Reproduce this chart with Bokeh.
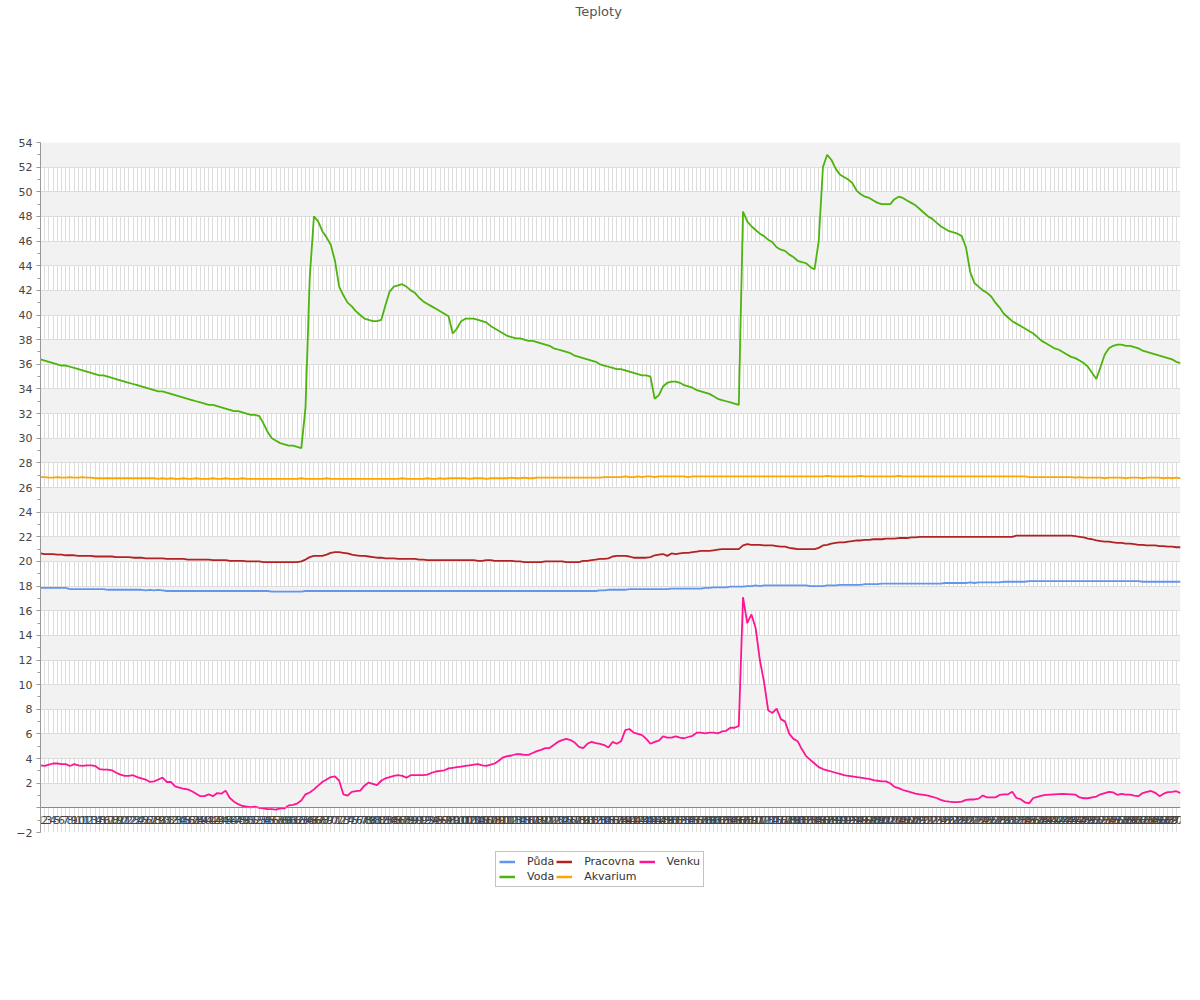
from bokeh.plotting import figure
from bokeh.models import Range1d, FixedTicker, Legend, LegendItem, Title
from bokeh.layouts import column
from bokeh.embed import file_html
from bokeh.resources import INLINE

days = list(range(1, 273))
day_labels = [str(d) for d in days]

voda = [
    36.4, 36.3, 36.2, 36.1, 36.0, 35.9, 35.9, 35.8, 35.7, 35.6,
    35.5, 35.4, 35.3, 35.2, 35.1, 35.1, 35.0, 34.9, 34.8, 34.7,
    34.6, 34.5, 34.4, 34.3, 34.2, 34.1, 34.0, 33.9, 33.8, 33.8,
    33.7, 33.6, 33.5, 33.4, 33.3, 33.2, 33.1, 33.0, 32.9, 32.8,
    32.7, 32.7, 32.6, 32.5, 32.4, 32.3, 32.2, 32.2, 32.1, 32.0,
    31.9, 31.9, 31.8, 31.2, 30.5, 30.0, 29.8, 29.6, 29.5, 29.4,
    29.4, 29.3, 29.2, 32.5, 43.0, 48.0, 47.6, 46.8, 46.3, 45.7,
    44.4, 42.3, 41.6, 41.0, 40.7, 40.3, 40.0, 39.7, 39.6, 39.5,
    39.5, 39.6, 40.8, 41.9, 42.3, 42.4, 42.5, 42.3, 42.0, 41.8,
    41.4, 41.1, 40.9, 40.7, 40.5, 40.3, 40.1, 39.9, 38.5, 38.9,
    39.5, 39.7, 39.7, 39.7, 39.6, 39.5, 39.4, 39.1, 38.9, 38.7,
    38.5, 38.3, 38.2, 38.1, 38.1, 38.0, 37.9, 37.9, 37.8, 37.7,
    37.6, 37.5, 37.3, 37.2, 37.1, 37.0, 36.9, 36.7, 36.6, 36.5,
    36.4, 36.3, 36.2, 36.0, 35.9, 35.8, 35.7, 35.6, 35.6, 35.5,
    35.4, 35.3, 35.2, 35.1, 35.1, 35.0, 33.2, 33.5, 34.2, 34.5,
    34.6, 34.6, 34.5, 34.3, 34.2, 34.1, 33.9, 33.8, 33.7, 33.6,
    33.4, 33.2, 33.1, 33.0, 32.9, 32.8, 32.7, 48.4, 47.6, 47.2,
    46.9, 46.6, 46.4, 46.1, 45.9, 45.5, 45.3, 45.2, 44.9, 44.7,
    44.4, 44.3, 44.2, 43.9, 43.7, 46.0, 52.0, 53.0, 52.6, 51.9,
    51.4, 51.2, 51.0, 50.7, 50.1, 49.8, 49.6, 49.5, 49.3, 49.1,
    49.0, 49.0, 49.0, 49.4, 49.6, 49.5, 49.3, 49.1, 48.9, 48.6,
    48.3, 48.0, 47.8, 47.5, 47.2, 47.0, 46.8, 46.7, 46.6, 46.4,
    45.5, 43.5, 42.6, 42.3, 42.0, 41.8, 41.5, 41.0, 40.6, 40.1,
    39.8, 39.5, 39.3, 39.1, 38.9, 38.7, 38.5, 38.2, 37.9, 37.7,
    37.5, 37.3, 37.2, 37.0, 36.8, 36.6, 36.5, 36.3, 36.1, 35.8,
    35.3, 34.8, 35.8, 36.8, 37.3, 37.5, 37.6, 37.6, 37.5, 37.5,
    37.4, 37.3, 37.1, 37.0, 36.9, 36.8, 36.7, 36.6, 36.5, 36.4,
    36.2, 36.1,
]

venku = [
    3.45, 3.4, 3.5, 3.6, 3.6, 3.55, 3.55, 3.4, 3.55, 3.45,
    3.4, 3.45, 3.45, 3.4, 3.15, 3.1, 3.1, 3.05, 2.85, 2.7,
    2.6, 2.6, 2.65, 2.5, 2.4, 2.3, 2.1, 2.15, 2.3, 2.45,
    2.1, 2.1, 1.75, 1.65, 1.55, 1.5, 1.35, 1.15, 0.95, 0.95,
    1.1, 0.95, 1.2, 1.15, 1.4, 0.8, 0.5, 0.3, 0.15, 0.1,
    0.05, 0.1, 0.0, -0.05, -0.1, -0.1, -0.15, -0.05, -0.05, 0.2,
    0.25, 0.35, 0.6, 1.1, 1.25, 1.5, 1.8, 2.1, 2.3, 2.5,
    2.55, 2.2, 1.1, 1.0, 1.3, 1.35, 1.4, 1.8, 2.05, 1.95,
    1.85, 2.2, 2.4, 2.5, 2.6, 2.65, 2.6, 2.45, 2.65, 2.65,
    2.65, 2.65, 2.7, 2.85, 2.95, 3.0, 3.05, 3.2, 3.25, 3.3,
    3.35, 3.4, 3.45, 3.5, 3.55, 3.45, 3.4, 3.5, 3.6, 3.85,
    4.1, 4.2, 4.25, 4.35, 4.35, 4.3, 4.3, 4.45, 4.6, 4.7,
    4.85, 4.85, 5.1, 5.35, 5.5, 5.6, 5.5, 5.3, 4.95, 4.85,
    5.2, 5.35, 5.25, 5.2, 5.1, 4.9, 5.35, 5.2, 5.4, 6.3,
    6.4, 6.1, 6.0, 5.9, 5.6, 5.2, 5.35, 5.45, 5.8, 5.7,
    5.7, 5.8, 5.7, 5.65, 5.75, 5.85, 6.1, 6.1, 6.05, 6.1,
    6.1, 6.05, 6.2, 6.25, 6.5, 6.5, 6.65, 17.1, 15.0, 15.7,
    14.6, 12.0, 10.2, 7.9, 7.7, 8.05, 7.2, 7.0, 6.0, 5.6,
    5.4, 4.75, 4.2, 3.9, 3.6, 3.3, 3.15, 3.05, 2.95, 2.85,
    2.75, 2.65, 2.6, 2.55, 2.5, 2.45, 2.4, 2.35, 2.25, 2.2,
    2.15, 2.15, 2.0, 1.7, 1.6, 1.45, 1.35, 1.25, 1.15, 1.1,
    1.05, 1.0, 0.9, 0.8, 0.65, 0.55, 0.5, 0.47, 0.47, 0.5,
    0.65, 0.68, 0.68, 0.75, 1.0, 0.85, 0.85, 0.85, 1.05, 1.1,
    1.1, 1.3, 0.8, 0.7, 0.45, 0.36, 0.8, 0.9, 1.0, 1.05,
    1.08, 1.1, 1.12, 1.13, 1.12, 1.1, 1.08, 0.85, 0.78, 0.78,
    0.85, 0.92, 1.1, 1.2, 1.3, 1.25, 1.06, 1.13, 1.08, 1.08,
    1.0, 0.95, 1.2, 1.3, 1.37, 1.22, 0.95, 1.15, 1.27, 1.3,
    1.35, 1.2,
]

akvarium = [
    26.85, 26.85, 26.8, 26.8, 26.85, 26.8, 26.8, 26.85, 26.8, 26.8,
    26.85, 26.8, 26.8, 26.75, 26.75, 26.75, 26.75, 26.75, 26.75, 26.75,
    26.75, 26.75, 26.75, 26.75, 26.75, 26.75, 26.75, 26.75, 26.7, 26.75,
    26.7, 26.75, 26.7, 26.7, 26.75, 26.7, 26.7, 26.75, 26.7, 26.7,
    26.7, 26.75, 26.7, 26.7, 26.75, 26.7, 26.7, 26.7, 26.75, 26.7,
    26.7, 26.7, 26.7, 26.7, 26.7, 26.7, 26.7, 26.7, 26.7, 26.7,
    26.7, 26.7, 26.75, 26.7, 26.7, 26.7, 26.7, 26.7, 26.75, 26.7,
    26.7, 26.7, 26.7, 26.7, 26.7, 26.7, 26.7, 26.7, 26.7, 26.7,
    26.7, 26.7, 26.7, 26.7, 26.7, 26.7, 26.75, 26.7, 26.7, 26.7,
    26.7, 26.7, 26.75, 26.7, 26.7, 26.75, 26.7, 26.75, 26.75, 26.75,
    26.75, 26.75, 26.7, 26.75, 26.75, 26.75, 26.7, 26.75, 26.75, 26.75,
    26.75, 26.75, 26.8, 26.75, 26.75, 26.8, 26.75, 26.75, 26.8, 26.8,
    26.8, 26.8, 26.8, 26.8, 26.8, 26.8, 26.8, 26.8, 26.8, 26.8,
    26.8, 26.8, 26.8, 26.8, 26.85, 26.85, 26.85, 26.85, 26.85, 26.9,
    26.85, 26.85, 26.9, 26.85, 26.9, 26.9, 26.85, 26.9, 26.9, 26.9,
    26.9, 26.9, 26.9, 26.9, 26.85, 26.9, 26.9, 26.9, 26.9, 26.9,
    26.9, 26.9, 26.9, 26.9, 26.9, 26.9, 26.9, 26.9, 26.9, 26.9,
    26.9, 26.9, 26.9, 26.9, 26.9, 26.9, 26.9, 26.9, 26.9, 26.9,
    26.9, 26.9, 26.9, 26.9, 26.9, 26.9, 26.9, 26.95, 26.9, 26.9,
    26.9, 26.9, 26.9, 26.9, 26.9, 26.95, 26.9, 26.9, 26.9, 26.9,
    26.9, 26.9, 26.9, 26.9, 26.95, 26.9, 26.9, 26.9, 26.9, 26.9,
    26.9, 26.9, 26.9, 26.9, 26.9, 26.9, 26.9, 26.9, 26.9, 26.9,
    26.9, 26.9, 26.9, 26.9, 26.9, 26.9, 26.9, 26.9, 26.9, 26.9,
    26.9, 26.9, 26.9, 26.9, 26.9, 26.85, 26.85, 26.85, 26.85, 26.85,
    26.85, 26.85, 26.85, 26.85, 26.85, 26.85, 26.8, 26.85, 26.8, 26.8,
    26.8, 26.8, 26.8, 26.75, 26.8, 26.8, 26.8, 26.8, 26.75, 26.8,
    26.8, 26.8, 26.75, 26.8, 26.8, 26.8, 26.8, 26.75, 26.8, 26.75,
    26.8, 26.75,
]

pracovna = [
    20.65, 20.6, 20.6, 20.6, 20.55, 20.55, 20.5, 20.5, 20.5, 20.45,
    20.45, 20.45, 20.45, 20.4, 20.4, 20.4, 20.4, 20.4, 20.35, 20.35,
    20.35, 20.35, 20.3, 20.3, 20.3, 20.25, 20.25, 20.25, 20.25, 20.25,
    20.2, 20.2, 20.2, 20.2, 20.2, 20.15, 20.15, 20.15, 20.15, 20.15,
    20.15, 20.1, 20.1, 20.1, 20.1, 20.05, 20.05, 20.05, 20.05, 20.0,
    20.0, 20.0, 20.0, 19.95, 19.95, 19.95, 19.95, 19.95, 19.95, 19.95,
    19.95, 19.95, 20.0, 20.15, 20.35, 20.45, 20.45, 20.45, 20.55, 20.7,
    20.75, 20.75, 20.7, 20.65, 20.55, 20.5, 20.45, 20.45, 20.4, 20.35,
    20.3, 20.3, 20.25, 20.25, 20.25, 20.2, 20.2, 20.2, 20.2, 20.2,
    20.15, 20.15, 20.1, 20.1, 20.1, 20.1, 20.1, 20.1, 20.1, 20.1,
    20.1, 20.1, 20.1, 20.1, 20.05, 20.05, 20.1, 20.1, 20.05, 20.05,
    20.05, 20.05, 20.05, 20.0, 20.0, 19.95, 19.95, 19.95, 19.95, 19.95,
    20.0, 20.0, 20.0, 20.0, 20.0, 19.95, 19.95, 19.95, 19.95, 20.05,
    20.05, 20.1, 20.15, 20.2, 20.2, 20.25, 20.4, 20.45, 20.45, 20.45,
    20.4, 20.3, 20.3, 20.3, 20.3, 20.35, 20.5, 20.55, 20.6, 20.45,
    20.65, 20.6, 20.65, 20.7, 20.7, 20.75, 20.8, 20.85, 20.85, 20.85,
    20.9, 20.95, 21.0, 21.0, 21.0, 21.0, 21.0, 21.3, 21.4, 21.35,
    21.35, 21.35, 21.3, 21.3, 21.3, 21.25, 21.2, 21.2, 21.1, 21.05,
    21.0, 21.0, 21.0, 21.0, 21.0, 21.1, 21.3, 21.35, 21.45, 21.5,
    21.55, 21.55, 21.6, 21.65, 21.7, 21.7, 21.75, 21.75, 21.8, 21.8,
    21.8, 21.85, 21.85, 21.85, 21.9, 21.9, 21.9, 21.95, 21.95, 22.0,
    22.0, 22.0, 22.0, 22.0, 22.0, 22.0, 22.0, 22.0, 22.0, 22.0,
    22.0, 22.0, 22.0, 22.0, 22.0, 22.0, 22.0, 22.0, 22.0, 22.0,
    22.0, 22.0, 22.1, 22.1, 22.1, 22.1, 22.1, 22.1, 22.1, 22.1,
    22.1, 22.1, 22.1, 22.1, 22.1, 22.1, 22.05, 22.0, 21.95, 21.85,
    21.8, 21.7, 21.65, 21.6, 21.6, 21.55, 21.5, 21.5, 21.45, 21.45,
    21.4, 21.35, 21.35, 21.3, 21.3, 21.3, 21.25, 21.25, 21.2, 21.2,
    21.15, 21.15,
]

puda = [
    17.85, 17.85, 17.85, 17.85, 17.85, 17.85, 17.85, 17.75, 17.75, 17.75,
    17.75, 17.75, 17.75, 17.75, 17.75, 17.75, 17.7, 17.7, 17.7, 17.7,
    17.7, 17.7, 17.7, 17.7, 17.7, 17.65, 17.7, 17.65, 17.7, 17.65,
    17.6, 17.6, 17.6, 17.6, 17.6, 17.6, 17.6, 17.6, 17.6, 17.6,
    17.6, 17.6, 17.6, 17.6, 17.6, 17.6, 17.6, 17.6, 17.6, 17.6,
    17.6, 17.6, 17.6, 17.6, 17.6, 17.55, 17.55, 17.55, 17.55, 17.55,
    17.55, 17.55, 17.55, 17.6, 17.6, 17.6, 17.6, 17.6, 17.6, 17.6,
    17.6, 17.6, 17.6, 17.6, 17.6, 17.6, 17.6, 17.6, 17.6, 17.6,
    17.6, 17.6, 17.6, 17.6, 17.6, 17.6, 17.6, 17.6, 17.6, 17.6,
    17.6, 17.6, 17.6, 17.6, 17.6, 17.6, 17.6, 17.6, 17.6, 17.6,
    17.6, 17.6, 17.6, 17.6, 17.6, 17.6, 17.6, 17.6, 17.6, 17.6,
    17.6, 17.6, 17.6, 17.6, 17.6, 17.6, 17.6, 17.6, 17.6, 17.6,
    17.6, 17.6, 17.6, 17.6, 17.6, 17.6, 17.6, 17.6, 17.6, 17.6,
    17.6, 17.6, 17.6, 17.65, 17.65, 17.7, 17.7, 17.7, 17.7, 17.7,
    17.75, 17.75, 17.75, 17.75, 17.75, 17.75, 17.75, 17.75, 17.75, 17.75,
    17.8, 17.8, 17.8, 17.8, 17.8, 17.8, 17.8, 17.8, 17.85, 17.85,
    17.9, 17.9, 17.9, 17.9, 17.95, 17.95, 17.95, 17.95, 18.0, 18.0,
    18.05, 18.0, 18.05, 18.05, 18.05, 18.05, 18.05, 18.05, 18.05, 18.05,
    18.05, 18.05, 18.05, 18.0, 18.0, 18.0, 18.0, 18.05, 18.05, 18.05,
    18.1, 18.1, 18.1, 18.1, 18.1, 18.1, 18.15, 18.15, 18.15, 18.15,
    18.2, 18.2, 18.2, 18.2, 18.2, 18.2, 18.2, 18.2, 18.2, 18.2,
    18.2, 18.2, 18.2, 18.2, 18.2, 18.25, 18.25, 18.25, 18.25, 18.25,
    18.25, 18.3, 18.25, 18.3, 18.3, 18.3, 18.3, 18.3, 18.3, 18.35,
    18.35, 18.35, 18.35, 18.35, 18.35, 18.4, 18.4, 18.4, 18.4, 18.4,
    18.4, 18.4, 18.4, 18.4, 18.4, 18.4, 18.4, 18.4, 18.4, 18.4,
    18.4, 18.4, 18.4, 18.4, 18.4, 18.4, 18.4, 18.4, 18.4, 18.4,
    18.4, 18.4, 18.35, 18.35, 18.35, 18.35, 18.35, 18.35, 18.35, 18.35,
    18.35, 18.35,
]

series_names = ["Půda", "Voda", "Pracovna", "Akvarium", "Venku"]
series_values = [puda, voda, pracovna, akvarium, venku]
series_colors = ["#6495ED", "#4db30d", "#b22222", "#FFA500", "#FF1493"]

y_ticks = list(range(-2, 56, 2))
y_minor = list(range(-1, 55, 2))

FONT = "DejaVu Sans"

p = figure(width=1192, height=842, output_backend="svg", toolbar_location=None,
           title=None,
           x_range=Range1d(1, 272), y_range=Range1d(-2, 54),
           min_border_left=40, min_border_right=12, min_border_top=0,
           min_border_bottom=10, outline_line_color=None)

# spacer (closest to the frame), then the visible title above it
p.add_layout(Title(text=" ", text_font=FONT, text_font_size="13px", standoff=106), "above")
p.add_layout(Title(text="Teploty", align="left", text_font=FONT,
                   text_font_size="13px", text_font_style="normal",
                   text_color="#555555", standoff=2, offset=535), "above")

# axes
xa = p.xaxis[0]
xa.ticker = FixedTicker(ticks=days)
xa.major_label_overrides = {d: lab for d, lab in zip(days, day_labels)}
xa.fixed_location = 0
xa.axis_line_color = "#888888"
xa.major_tick_out = 0
xa.major_tick_in = 0
xa.minor_tick_out = 0
xa.minor_tick_in = 0
xa.major_label_standoff = 8
xa.major_label_text_font = FONT
xa.major_label_text_font_size = "11px"
xa.major_label_text_color = "#444444"

ya = p.yaxis[0]
ya.ticker = FixedTicker(ticks=y_ticks, minor_ticks=y_minor)
ya.major_label_overrides = {0: ""}
ya.axis_line_color = "#999999"
ya.major_tick_line_color = "#999999"
ya.minor_tick_line_color = "#999999"
ya.major_tick_out = 4
ya.major_tick_in = 0
ya.minor_tick_out = 3
ya.minor_tick_in = 0
ya.major_label_standoff = 4
ya.major_label_text_font = FONT
ya.major_label_text_font_size = "11px"
ya.major_label_text_color = "#444444"

p.xgrid.grid_line_color = "#dddddd"
p.ygrid.grid_line_color = "#dddddd"
p.ygrid.band_fill_color = "#f2f2f2"
p.ygrid.band_fill_alpha = 1.0

for name, vals, col in zip(series_names, series_values, series_colors):
    p.line(days, vals, line_color=col, line_width=1.8)

# legend strip below the chart (its sample lines lie outside its visible range)
pl = figure(width=1192, height=60, output_backend="svg", toolbar_location=None,
            x_range=Range1d(0, 1), y_range=Range1d(0, 1),
            x_axis_location=None, y_axis_location=None,
            min_border_left=0, min_border_right=0, min_border_top=0,
            min_border_bottom=0, outline_line_color=None)
pl.xgrid.visible = False
pl.ygrid.visible = False
items = []
for name, col in zip(series_names, series_colors):
    r = pl.line([5, 6], [5, 6], line_color=col, line_width=2.5)
    items.append(LegendItem(label=name, renderers=[r]))

legend = Legend(items=items, orientation="vertical", nrows=2,
                location=(455, 15), margin=0,
                border_line_color="#888888", border_line_width=1,
                background_fill_color="white", background_fill_alpha=1.0,
                label_text_font=FONT, label_text_font_size="11px",
                label_text_color="#333333", glyph_width=16, glyph_height=11,
                label_height=11, label_standoff=12, spacing=2, padding=3)
pl.add_layout(legend, "center")

layout = column(p, pl, spacing=0)
open("out.html", "w").write(file_html(layout, INLINE))
